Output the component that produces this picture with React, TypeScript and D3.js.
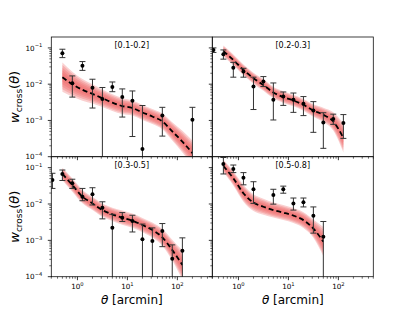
import React from 'react';
import * as d3 from 'd3';

// angular bins (arcmin)
const THETA = [0.316, 0.5, 0.79, 1.26, 2.0, 3.16, 5.0, 7.9, 12.6, 20, 31.6, 50, 79, 126, 200];
const MODEL_THETA = THETA.slice(1);

const TITLES = ['[0.1-0.2]', '[0.2-0.3]', '[0.3-0.5]', '[0.5-0.8]'];

// measured w(theta), upper and lower error ends (0 = lower end below plot)
const obs1 = [null, 0.071, 0.0106, 0.032, 0.008, 0.0039, 0.0083, 0.0044, 0.0035, 0.000163, null, 0.00137, null, null, 0.00104];
const hi1 = [null, 0.092, 0.0169, 0.042, 0.0137, 0.0081, 0.0115, 0.0074, 0.0065, 0.00258, null, 0.0023, null, null, 0.0023];
const lo1 = [null, 0.054, 0.0044, 0.024, 0.0022, 0, 0.0062, 0.00124, 0.00036, 0, null, 0.00037, null, null, 0];

const obs2 = [0.0877, 0.067, 0.0286, 0.0222, 0.0086, 0.0118, 0.0037, 0.00456, 0.0037, 0.00287, 0.00188, 0.00088, 0.00109, 0.00085, null];
const hi2 = [0.1, 0.088, 0.04, 0.0274, 0.0156, 0.0162, 0.0108, 0.0061, 0.0057, 0.00455, 0.0033, 0.00163, 0.00149, 0.00145, null];
const lo2 = [0.075, 0.049, 0.0156, 0.0156, 0.002, 0.0086, 0.00103, 0.0026, 0.00167, 0.00136, 0.00047, 0.00017, 0.00078, 0.00032, null];

const obs3 = [0.0457, 0.067, 0.037, 0.0159, 0.0185, 0.0079, 0.00223, 0.0042, 0.0034, 0.00107, 0.00096, 0.0018, 0.00031, 0.00052, null];
const hi3 = [0.07, 0.086, 0.048, 0.0268, 0.028, 0.0115, 0.0052, 0.0058, 0.0049, 0.0028, 0.0022, 0.0029, 0.00075, 0.00117, null];
const lo3 = [0.0268, 0.0443, 0.0268, 0.0123, 0.0094, 0.0039, 0, 0.0033, 0.0017, 0, 0, 0.00067, 0, 0, null];

const obs4 = [null, 0.126, 0.092, 0.053, 0.0254, null, 0.0177, 0.0254, 0.0104, 0.0111, 0.00476, 0.00126, null, null, null];
const hi4 = [null, 0.19, 0.118, 0.073, 0.041, null, 0.0254, 0.031, 0.0146, 0.0146, 0.0083, 0.0033, null, null, null];
const lo4 = [null, 0.067, 0.073, 0.0337, 0.0104, null, 0.0099, 0.0198, 0.0068, 0.0083, 0.00158, 0, null, null, null];

// best-fit model (dashed) and half-width of the red band in dex
const model1 = [0.0156, 0.01, 0.007, 0.0054, 0.0041, 0.0031, 0.0025, 0.0022, 0.00166, 0.00128, 0.00094, 0.0005, 0.00026, 0.000126];
const model2 = [0.082, 0.0466, 0.0247, 0.0146, 0.0095, 0.0059, 0.0044, 0.00354, 0.0027, 0.00188, 0.00143, 0.00094, 0.00033, null];
const model3 = [0.067, 0.0333, 0.0159, 0.0104, 0.0068, 0.0052, 0.0042, 0.00347, 0.00264, 0.00192, 0.00121, 0.00054, 0.00021, null];
const model4 = [0.111, 0.051, 0.0197, 0.0109, 0.0084, 0.0068, 0.0058, 0.0048, 0.0036, 0.0021, 0.00092, null, null, null];

const band1 = [0.35, 0.3, 0.26, 0.23, 0.21, 0.2, 0.19, 0.18, 0.18, 0.18, 0.19, 0.22, 0.26, 0.3];
const band2 = [0.13, 0.13, 0.13, 0.13, 0.14, 0.14, 0.14, 0.14, 0.14, 0.15, 0.17, 0.22, 0.35, null];
const band3 = [0.15, 0.16, 0.16, 0.16, 0.16, 0.16, 0.17, 0.17, 0.17, 0.18, 0.2, 0.25, 0.35, null];
const band4 = [0.15, 0.17, 0.2, 0.2, 0.19, 0.18, 0.18, 0.18, 0.19, 0.22, 0.35, null, null, null];

const panels = [
  { obs: obs1, hi: hi1, lo: lo1, model: model1, band: band1 },
  { obs: obs2, hi: hi2, lo: lo2, model: model2, band: band2 },
  { obs: obs3, hi: hi3, lo: lo3, model: model3, band: band3 },
  { obs: obs4, hi: hi4, lo: lo4, model: model4, band: band4 },
];

const W = 415, H = 311;
const colX = [[51.3, 212.3], [212.3, 373.3]];
const rowY = [[37, 156.7], [156.7, 276.7]];
const XDOM = [0.3, 500];
const YDOM = [1e-4, 0.2];
const FONT = 'DejaVu Sans, sans-serif';

const xMajor = [1, 10, 100];
const xMinor: number[] = [];
[0.1, 1, 10, 100].forEach(d => { for (let k = 2; k <= 9; k++) { const v = d * k; if (v >= XDOM[0] && v <= XDOM[1]) xMinor.push(v); } });
const yMajor = [1e-4, 1e-3, 1e-2, 1e-1];
const yMinor: number[] = [];
[1e-4, 1e-3, 1e-2, 1e-1].forEach(d => { for (let k = 2; k <= 9; k++) { const v = d * k; if (v > YDOM[0] && v < YDOM[1] - 1e-9) yMinor.push(v); } });

const Pow10 = ({ x, y, exp, anchor }: any) => (
  <text x={x} y={y} textAnchor={anchor} fontFamily={FONT} fontSize={7.2} fill="#000">
    <tspan>10</tspan>
    <tspan dy={-3.2} fontSize={5.2}>{exp < 0 ? '\u2212' + (-exp) : exp}</tspan>
  </text>
);

const Panel = ({ i }: { i: number }) => {
  const col = i % 2, row = Math.floor(i / 2);
  const [x0, x1] = colX[col];
  const [y0, y1] = rowY[row];
  const x = d3.scaleLog().domain(XDOM).range([x0, x1]);
  const y = d3.scaleLog().domain(YDOM).range([y1, y0]);
  const p = panels[i];
  const clipId = `clip${i}`;

  const mpts = MODEL_THETA.map((t, k) => ({ t, m: p.model[k], b: p.band[k] })).filter(d => d.m != null);
  const bandArea = (f: number) => d3.area<any>()
    .x(d => x(d.t))
    .y0(d => y(d.m * Math.pow(10, -d.b * f)))
    .y1(d => y(d.m * Math.pow(10, d.b * f)))
    .curve(d3.curveMonotoneX)(mpts) || '';
  const line = d3.line<any>().x(d => x(d.t)).y(d => y(d.m)).curve(d3.curveMonotoneX)(mpts) || '';

  const pts = THETA.map((t, k) => ({ t, w: p.obs[k], hi: p.hi[k], lo: p.lo[k] })).filter(d => d.w != null);

  return (
    <g>
      <defs>
        <clipPath id={clipId}><rect x={x0} y={y0} width={x1 - x0} height={y1 - y0} /></clipPath>
      </defs>
      <g clipPath={`url(#${clipId})`}>
        {[1.15, 0.95, 0.75, 0.55, 0.35].map((f, k) => (
          <path key={k} d={bandArea(f)} fill="#ef6363" fillOpacity={0.3} stroke="none" />
        ))}
        <path d={line} fill="none" stroke="#000" strokeWidth={1.8} strokeDasharray="5,3" />
        {pts.map((d, k) => {
          const cx = x(d.t);
          const yt = y(d.hi as number);
          const yb = d.lo && (d.lo as number) > 0 ? y(d.lo as number) : y1 + 2;
          return (
            <g key={k}>
              <line x1={cx} x2={cx} y1={yt} y2={yb} stroke="#333" strokeWidth={1} />
              <line x1={cx - 3} x2={cx + 3} y1={yt} y2={yt} stroke="#333" strokeWidth={1} />
              {d.lo && (d.lo as number) > 0 ? <line x1={cx - 3} x2={cx + 3} y1={yb} y2={yb} stroke="#333" strokeWidth={1} /> : null}
              <circle cx={cx} cy={y(d.w as number)} r={2} fill="#000" />
            </g>
          );
        })}
      </g>
      <rect x={x0} y={y0} width={x1 - x0} height={y1 - y0} fill="none" stroke="#111" strokeWidth={0.8} />
      {xMajor.map(v => <line key={'xM' + v} x1={x(v)} x2={x(v)} y1={y1} y2={y1 + 3.5} stroke="#000" strokeWidth={0.8} />)}
      {xMinor.map(v => <line key={'xm' + v} x1={x(v)} x2={x(v)} y1={y1} y2={y1 + 2} stroke="#000" strokeWidth={0.6} />)}
      {yMajor.map(v => <line key={'yM' + v} x1={x0} x2={x0 - 3.5} y1={y(v)} y2={y(v)} stroke="#000" strokeWidth={0.8} />)}
      {yMinor.map(v => <line key={'ym' + v} x1={x0} x2={x0 - 2} y1={y(v)} y2={y(v)} stroke="#000" strokeWidth={0.6} />)}
      {row === 1 && xMajor.map(v => <Pow10 key={'xl' + v} x={x(v)} y={y1 + 12.3} exp={Math.round(Math.log10(v))} anchor="middle" />)}
      {col === 0 && yMajor.map(v => <Pow10 key={'yl' + v} x={x0 - 9} y={y(v) + 2.7} exp={Math.round(Math.log10(v))} anchor="end" />)}
      <text x={(x0 + x1) / 2} y={y0 + 11} textAnchor="middle" fontFamily={FONT} fontSize={8} fill="#000">{TITLES[i]}</text>
      {col === 0 && (
        <text transform={`translate(19,${(y0 + y1) / 2}) rotate(-90)`} textAnchor="middle" fontFamily={FONT} fontSize={13} fill="#000">
          <tspan fontStyle="italic">w</tspan>
          <tspan dy={2.5} fontSize={9}>cross</tspan>
          <tspan dy={-2.5}>(</tspan>
          <tspan fontStyle="italic">θ</tspan>
          <tspan>)</tspan>
        </text>
      )}
      {row === 1 && (
        <text x={(x0 + x1) / 2} y={304} textAnchor="middle" fontFamily={FONT} fontSize={12} fill="#000">
          <tspan fontStyle="italic">θ</tspan>
          <tspan> [arcmin]</tspan>
        </text>
      )}
    </g>
  );
};

export default function App() {
  return (
    <svg width={W} height={H} style={{ position: 'absolute', left: 0, top: 0, background: '#fff' }}>
      <rect width={W} height={H} fill="#fff" />
      {[0, 1, 2, 3].map(i => <Panel key={i} i={i} />)}
    </svg>
  );
}
